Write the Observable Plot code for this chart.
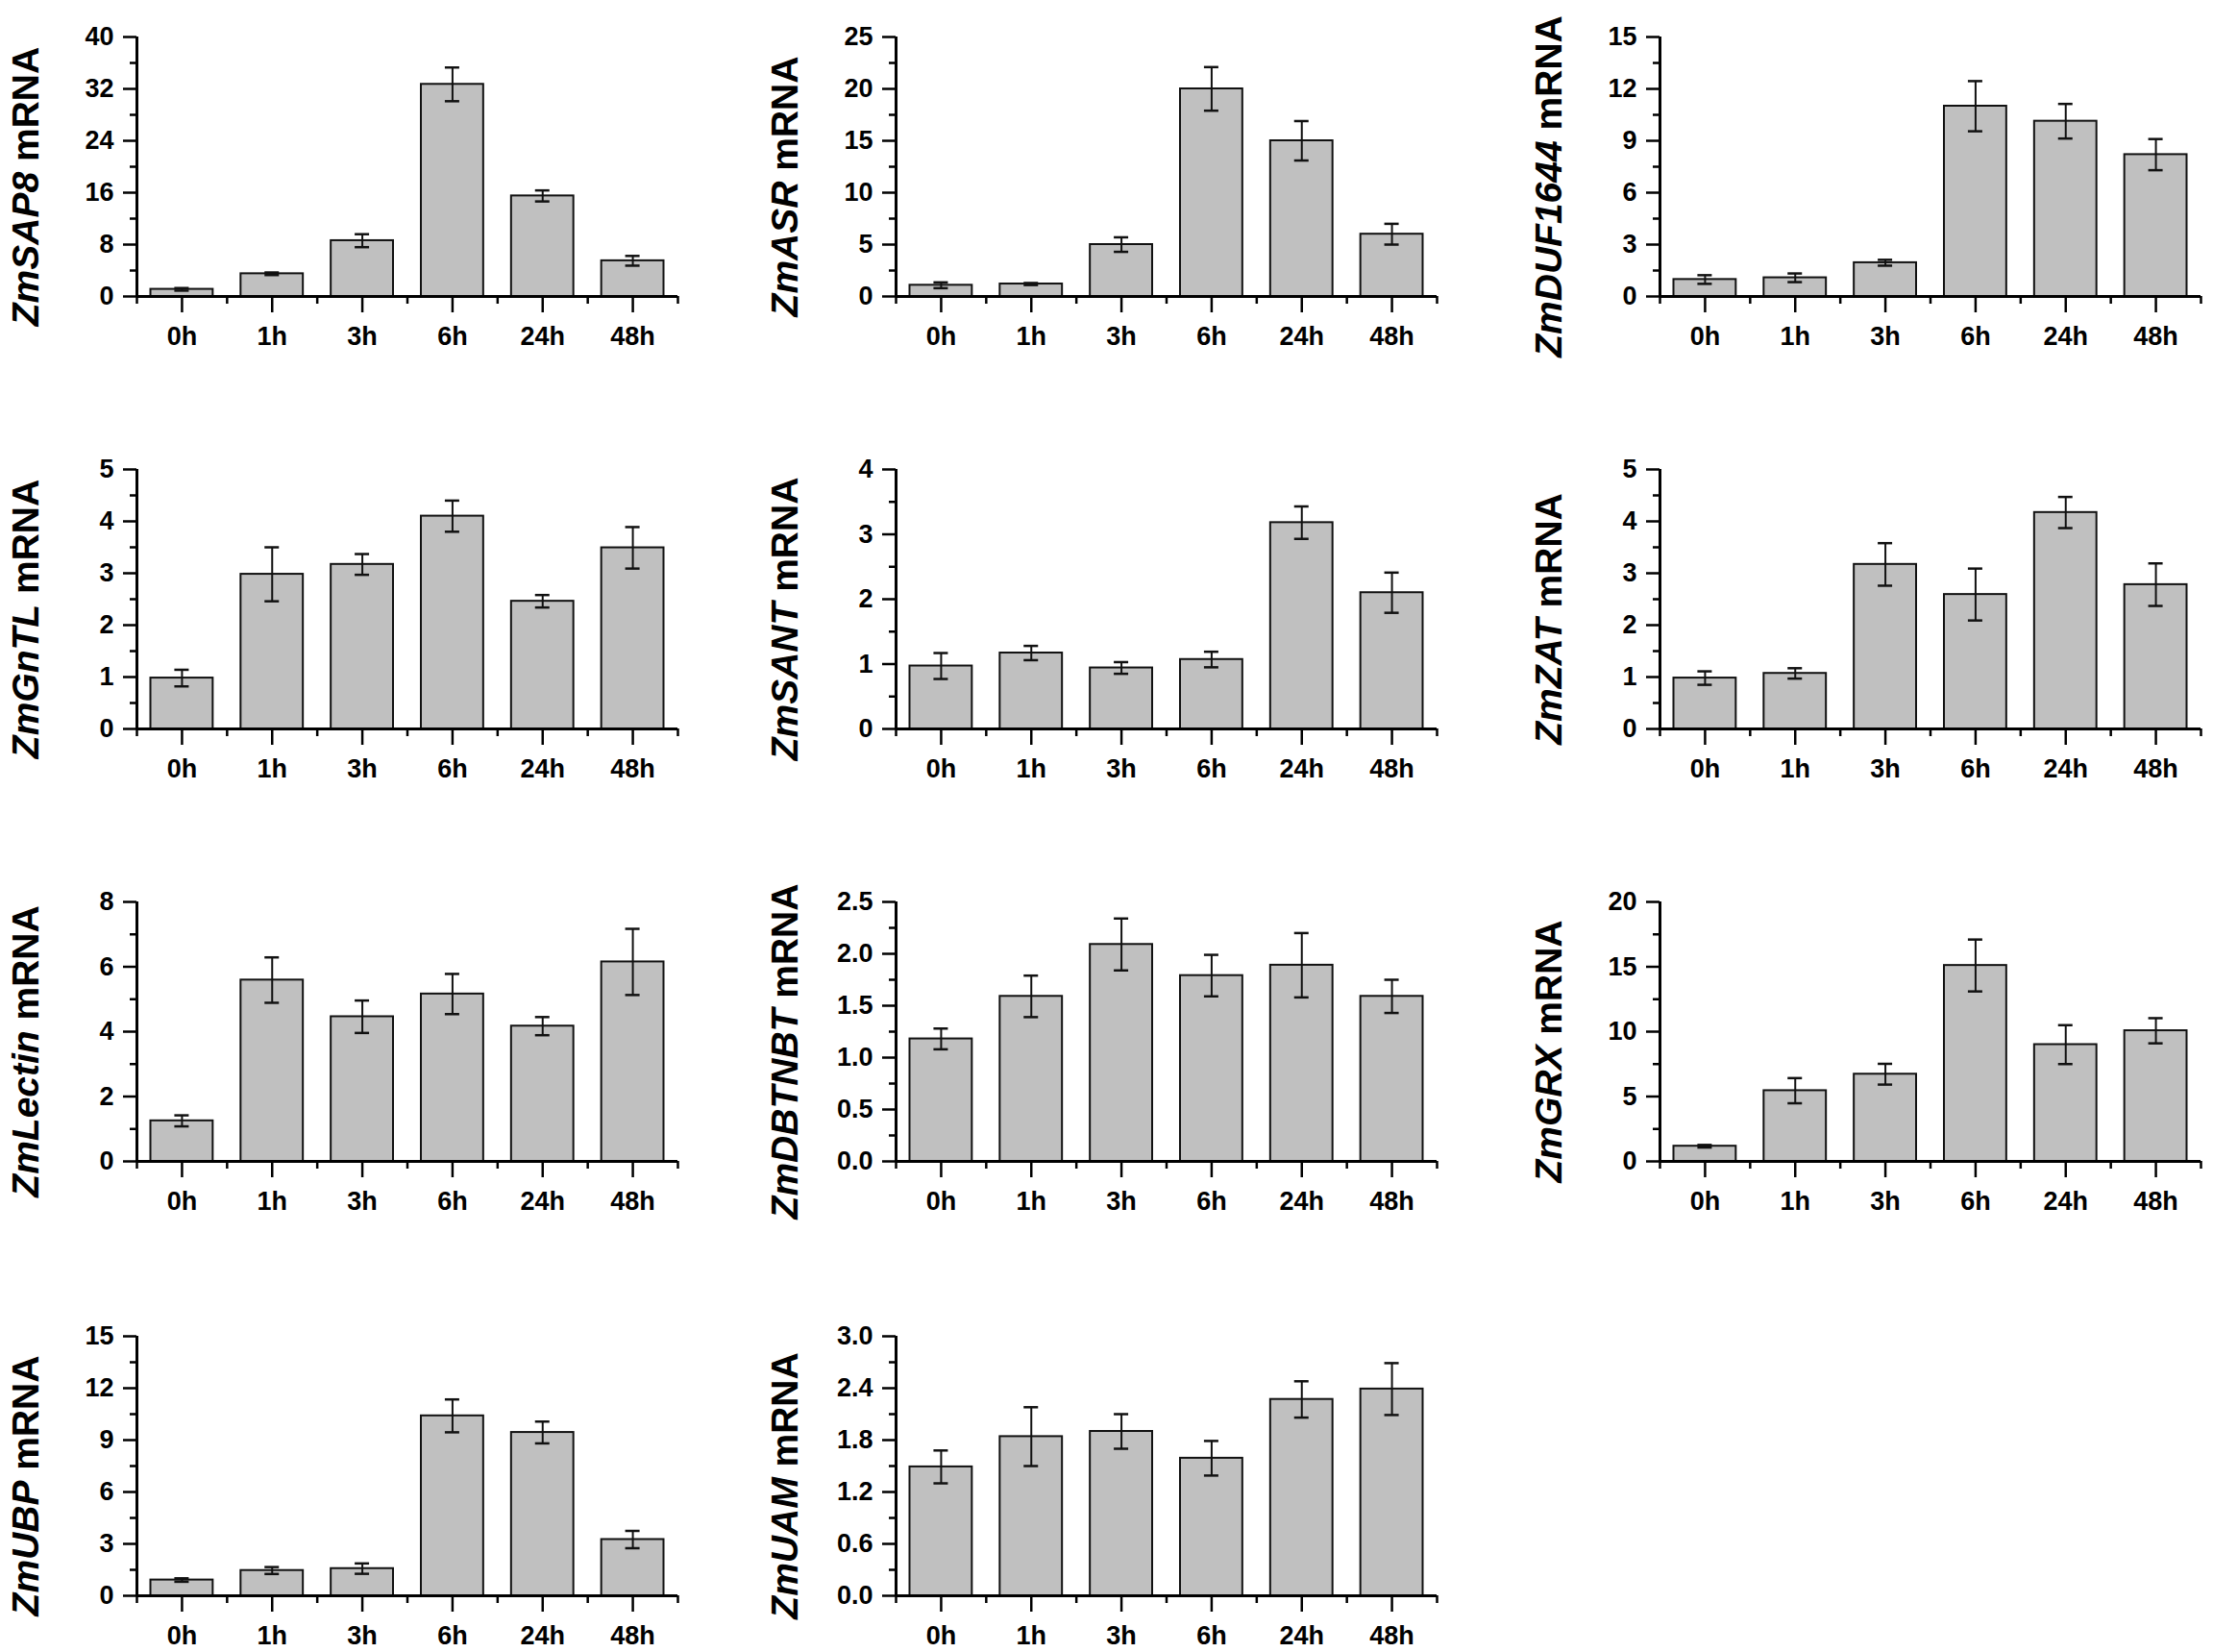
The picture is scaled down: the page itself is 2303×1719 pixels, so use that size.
<!DOCTYPE html>
<html>
<head>
<meta charset="utf-8">
<script src="https://cdn.jsdelivr.net/npm/d3@7"></script>
<script src="https://cdn.jsdelivr.net/npm/@observablehq/plot@0.6"></script>
<style>
  html, body { margin: 0; padding: 0; background: #fff; }
  #wrap { position: relative; width: 2303px; height: 1719px; overflow: hidden; background: #fff; }
  .panel { position: absolute; }
</style>
</head>
<body>
<div id="wrap"></div>
<script>
// ---- data ----
const hours = ["0h", "1h", "3h", "6h", "24h", "48h"];
const genes = ["ZmSAP8", "ZmASR", "ZmDUF1644", "ZmGnTL", "ZmSANT", "ZmZAT", "ZmLectin", "ZmDBTNBT", "ZmGRX", "ZmUBP", "ZmUAM"];

const meanSAP8 = [1.1, 3.5, 8.6, 32.7, 15.5, 5.5];
const errSAP8  = [0.2, 0.2, 1.0, 2.6, 0.85, 0.75];
const meanASR = [1.08, 1.2, 5.0, 20.0, 15.0, 6.0];
const errASR  = [0.28, 0.1, 0.7, 2.1, 1.9, 1.0];
const meanDUF1644 = [0.98, 1.08, 1.95, 11.0, 10.13, 8.2];
const errDUF1644  = [0.25, 0.25, 0.17, 1.45, 1.0, 0.9];
const meanGnTL = [0.98, 2.98, 3.17, 4.1, 2.46, 3.49];
const errGnTL  = [0.16, 0.52, 0.2, 0.3, 0.12, 0.4];
const meanSANT = [0.97, 1.17, 0.94, 1.07, 3.18, 2.1];
const errSANT  = [0.2, 0.11, 0.09, 0.12, 0.25, 0.31];
const meanZAT = [0.98, 1.07, 3.17, 2.59, 4.17, 2.78];
const errZAT  = [0.13, 0.1, 0.41, 0.5, 0.3, 0.41];
const meanLectin = [1.25, 5.59, 4.46, 5.16, 4.17, 6.15];
const errLectin  = [0.17, 0.7, 0.5, 0.62, 0.28, 1.02];
const meanDBTNBT = [1.18, 1.59, 2.09, 1.79, 1.89, 1.59];
const errDBTNBT  = [0.1, 0.2, 0.25, 0.2, 0.31, 0.16];
const meanGRX = [1.17, 5.45, 6.72, 15.1, 9.0, 10.07];
const errGRX  = [0.1, 0.97, 0.8, 2.0, 1.5, 0.97];
const meanUBP = [0.91, 1.46, 1.57, 10.4, 9.44, 3.25];
const errUBP  = [0.1, 0.2, 0.3, 0.95, 0.63, 0.5];
const meanUAM = [1.49, 1.84, 1.9, 1.59, 2.27, 2.39];
const errUAM  = [0.19, 0.34, 0.2, 0.2, 0.21, 0.3];

const means = [meanSAP8, meanASR, meanDUF1644, meanGnTL, meanSANT, meanZAT, meanLectin, meanDBTNBT, meanGRX, meanUBP, meanUAM];
const errs  = [errSAP8, errASR, errDUF1644, errGnTL, errSANT, errZAT, errLectin, errDBTNBT, errGRX, errUBP, errUAM];

// y-axis tick labels (max and major step) per panel
const yMax  = [40, 25, 15, 5, 4, 5, 8, 2.5, 20, 15, 3.0];
const yStep = [8, 5, 3, 1, 1, 1, 2, 0.5, 5, 3, 0.6];
const yDecimals = [0, 0, 0, 0, 0, 0, 0, 1, 0, 0, 1];

// ---- layout ----
const colLeft = [0, 790, 1585];
const rowTop = [0, 450, 900, 1352];
const W = 718, H = 362;
const mL = 142, mR = 13, mT = 38, mB = 54;
const FONT = "'Liberation Sans', Arial, sans-serif";

const wrap = document.getElementById("wrap");

genes.forEach((gene, g) => {
  const rows = hours.map((h, i) => ({
    i, h, v: means[g][i], e: errs[g][i]
  }));
  const step = yStep[g];
  const nMajor = Math.round(yMax[g] / step);
  const major = d3.range(nMajor + 1).map(k => +(k * step).toFixed(4));
  const minor = d3.range(nMajor).map(k => +((k + 0.5) * step).toFixed(4));
  const fmt = yDecimals[g] ? d3.format(".1f") : d3.format("d");

  const svg = Plot.plot({
    width: W,
    height: H,
    marginLeft: mL,
    marginRight: mR,
    marginTop: mT,
    marginBottom: mB,
    style: { fontFamily: FONT, fontSize: "27px", fontWeight: "bold", background: "transparent", overflow: "visible" },
    x: { domain: [0, hours.length] },
    y: { domain: [0, yMax[g]] },
    marks: [
      Plot.rectY(rows, {
        x1: d => d.i, x2: d => d.i + 1, y1: 0, y2: "v",
        insetLeft: 14.5, insetRight: 14.5,
        fill: "#c0c0c0", stroke: "#111", strokeWidth: 2
      }),
      Plot.ruleX(rows, {
        x: d => d.i + 0.5, y1: d => d.v - d.e, y2: d => d.v + d.e,
        stroke: "#111", strokeWidth: 2
      }),
      Plot.ruleY(rows, {
        y: d => d.v + d.e, x1: d => d.i + 0.5, x2: d => d.i + 0.5,
        insetLeft: -7.5, insetRight: -7.5, stroke: "#111", strokeWidth: 2.5
      }),
      Plot.ruleY(rows, {
        y: d => d.v - d.e, x1: d => d.i + 0.5, x2: d => d.i + 0.5,
        insetLeft: -7.5, insetRight: -7.5, stroke: "#111", strokeWidth: 2.5
      }),
      Plot.ruleY([0], { stroke: "#000", strokeWidth: 3 }),
      Plot.ruleX([0], { stroke: "#000", strokeWidth: 3 }),
      Plot.axisY({
        ticks: major, tickFormat: fmt, tickSize: 14, tickPadding: 10,
        strokeWidth: 2.5, label: null
      }),
      Plot.axisY({
        ticks: minor, tickFormat: () => "", tickSize: 7,
        strokeWidth: 2.5, label: null
      }),
      Plot.axisX({
        ticks: hours.map((h, i) => i + 0.5),
        tickFormat: d => hours[Math.floor(d)],
        tickSize: 17, tickPadding: 14, strokeWidth: 2.5, label: null
      }),
      Plot.axisX({
        ticks: d3.range(hours.length + 1), tickFormat: () => "",
        tickSize: 8, strokeWidth: 2.5, label: null
      })
    ]
  });

  // rotated y-axis title: italic gene name + upright "mRNA"
  const t = d3.select(svg).append("text")
    .attr("transform", `translate(40, ${mT + 156}) rotate(-90)`)
    .attr("text-anchor", "middle")
    .attr("font-family", FONT)
    .attr("font-size", "39px")
    .attr("font-weight", "bold")
    .attr("fill", "#000");
  t.append("tspan").attr("font-style", "italic").text(gene);
  t.append("tspan").text(" mRNA");

  const div = document.createElement("div");
  div.className = "panel";
  div.style.left = colLeft[g % 3] + "px";
  div.style.top = rowTop[Math.floor(g / 3)] + "px";
  div.appendChild(svg);
  wrap.appendChild(div);
});
</script>
</body>
</html>
